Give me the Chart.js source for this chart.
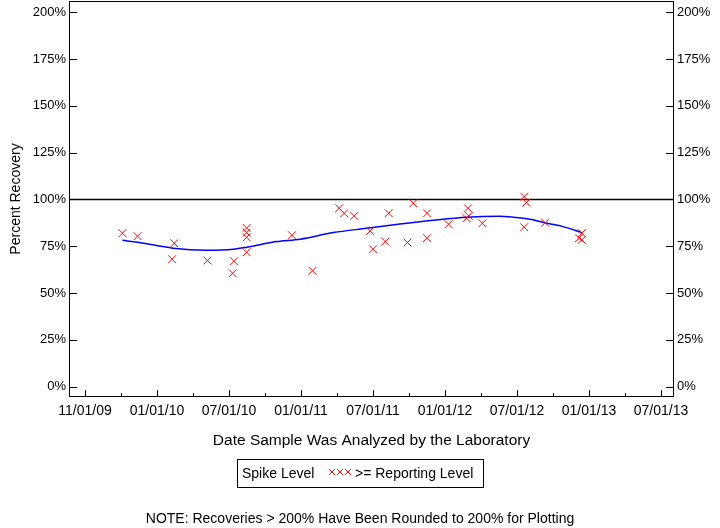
<!DOCTYPE html>
<html>
<head>
<meta charset="utf-8">
<script src="https://cdn.jsdelivr.net/npm/chart.js@4.4.1/dist/chart.umd.min.js"></script>
<style>
  body { margin: 0; background: #fff; }
  #wrap { position: relative; width: 720px; height: 528px; }
</style>
</head>
<body>
<div id="wrap"><canvas id="chart0" width="720" height="528"></canvas></div>
<script>
"use strict"

// == data
// x is in axis-tick units: 0 = first tick (11/01/09), 1 = next tick (01/01/10), ...
const xTickLabels = ["11/01/09", "01/01/10", "07/01/10", "01/01/11", "07/01/11", "01/01/12", "07/01/12", "01/01/13", "07/01/13"]
const yTickValues = [0, 25, 50, 75, 100, 125, 150, 175, 200]

const spikeX = [0.52, 0.73, 1.24, 1.21, 1.70, 2.07, 2.05, 2.245, 2.245, 2.245, 2.245, 2.875,
                3.16, 3.53, 3.60, 3.74, 3.96, 4.00, 4.17, 4.22, 4.48, 4.56, 4.75, 4.75,
                5.05, 5.32, 5.30, 5.33, 5.52, 6.10, 6.13, 6.10, 6.39, 6.90, 6.86, 6.90]
const spikeY = [82.0, 80.4, 76.6, 68.1, 67.4, 67.0, 60.6, 84.8, 82.3, 79.8, 71.8, 80.9,
                61.9, 95.3, 92.6, 91.2, 83.2, 73.4, 77.5, 92.6, 77.0, 98.0, 92.6, 79.3,
                86.8, 95.3, 90.0, 91.2, 87.3, 101.5, 98.3, 85.2, 87.6, 82.0, 79.3, 78.4]

// smoothed trend (blue)
const curveX = [0.52, 0.73, 1.22, 1.69, 2.06, 2.25, 2.66, 2.99, 3.45, 3.91, 4.375, 4.84, 5.30, 5.76, 5.95, 6.18, 6.41, 6.64, 6.90]
const curveY = [78.2, 77.2, 74.0, 72.9, 73.4, 74.5, 77.5, 78.8, 82.3, 84.6, 86.9, 88.9, 90.5, 91.0, 90.5, 89.4, 87.3, 85.5, 82.3]

const refLevel = 100
const xMin = -0.222, xMax = 8.18
const yMin = -5.5, yMax = 206

const FONT = "'Liberation Sans', Arial, sans-serif"

function pairs(xs, ys) {
    let out = []
    for (let i = 0; i < xs.length; i++) out.push({x: xs[i], y: ys[i]})
    return out
}

// no extra room for edge labels, the frame is fixed
function noPad(s) {
    s.paddingTop = 0
    s.paddingBottom = 0
    s.paddingLeft = 0
    s.paddingRight = 0
}

// frame, inward ticks, axis title, legend box and note
const decorations = {
    id: 'decorations',
    afterDraw(chart) {
        const ctx = chart.ctx
        const a = chart.chartArea
        const xs = chart.scales.x
        const yl = chart.scales.y
        ctx.save()
        ctx.strokeStyle = '#000'
        ctx.lineWidth = 1
        ctx.strokeRect(a.left + 0.5, a.top + 0.5, a.right - a.left - 1, a.bottom - a.top - 1)

        ctx.beginPath()
        // y ticks on both sides, pointing inward
        yTickValues.forEach(v => {
            let py = Math.round(yl.getPixelForValue(v)) + 0.5
            ctx.moveTo(a.left, py); ctx.lineTo(a.left + 8, py)
            ctx.moveTo(a.right, py); ctx.lineTo(a.right - 8, py)
        })
        // x ticks: major at labels, minor half-way
        for (let k = 0; k <= 16; k++) {
            let px = Math.round(xs.getPixelForValue(k / 2)) + 0.5
            let len = (k % 2 == 0) ? 7 : 4
            ctx.moveTo(px, a.bottom); ctx.lineTo(px, a.bottom - len)
        }
        ctx.stroke()

        ctx.fillStyle = '#000'
        ctx.textBaseline = 'middle'
        ctx.textAlign = 'center'
        ctx.font = '15.5px ' + FONT
        ctx.fillText('Date Sample Was Analyzed by the Laboratory', (a.left + a.right) / 2, 441)

        // legend
        ctx.strokeRect(237.5, 459.5, 246, 28)
        ctx.textAlign = 'left'
        ctx.font = '14px ' + FONT
        ctx.fillText('Spike Level', 242, 474)
        ctx.fillText('>= Reporting Level', 355, 474)
        ctx.strokeStyle = '#ff0000'
        ctx.beginPath()
        for (let i = 0; i < 3; i++) {
            let cx = 332 + i * 8, cy = 472
            ctx.moveTo(cx - 3, cy - 3); ctx.lineTo(cx + 3, cy + 3)
            ctx.moveTo(cx + 3, cy - 3); ctx.lineTo(cx - 3, cy + 3)
        }
        ctx.stroke()

        ctx.textAlign = 'center'
        ctx.fillText('NOTE: Recoveries > 200% Have Been Rounded to 200% for Plotting', 360, 519)
        ctx.restore()
    }
}

function yAxis(pos, width) {
    return {
        type: 'linear',
        position: pos,
        min: yMin,
        max: yMax,
        afterBuildTicks: s => { s.ticks = yTickValues.map(v => ({value: v})) },
        afterFit: s => { s.width = width; noPad(s) },
        grid: { display: false, drawTicks: false },
        border: { display: false },
        ticks: {
            padding: 3,
            color: '#000',
            font: { family: FONT, size: 13 },
            callback: v => v + '%'
        },
        title: pos == 'left' ? {
            display: true,
            text: 'Percent Recovery',
            color: '#000',
            font: { family: FONT, size: 14 },
            padding: { top: 8, bottom: 0 }
        } : { display: false }
    }
}

new Chart(document.getElementById('chart0').getContext('2d'), {
    type: 'scatter',
    data: {
        datasets: [
            {
                label: 'Spike Level',
                data: pairs(spikeX, spikeY),
                pointStyle: 'crossRot',
                pointRadius: 5.5,
                borderColor: '#ff0000',
                backgroundColor: '#ff0000',
                borderWidth: 1,
                order: 1
            },
            {
                type: 'line',
                data: pairs(curveX, curveY),
                borderColor: '#0000ff',
                borderWidth: 1.5,
                pointRadius: 0,
                cubicInterpolationMode: 'monotone',
                order: 2
            },
            {
                type: 'line',
                data: [{x: xMin, y: refLevel}, {x: xMax, y: refLevel}],
                borderColor: '#000',
                borderWidth: 1.5,
                pointRadius: 0,
                order: 3
            }
        ]
    },
    options: {
        responsive: false,
        devicePixelRatio: 1,
        animation: false,
        layout: { autoPadding: false, padding: { top: 1, left: 0, right: 0, bottom: 0 } },
        plugins: {
            legend: { display: false },
            tooltip: { enabled: false }
        },
        scales: {
            x: {
                type: 'linear',
                min: xMin,
                max: xMax,
                afterBuildTicks: s => { s.ticks = xTickLabels.map((l, i) => ({value: i})) },
                afterFit: s => { s.height = 131; noPad(s) },
                grid: { display: false, drawTicks: false },
                border: { display: false },
                ticks: {
                    padding: 6,
                    maxRotation: 0,
                    autoSkip: false,
                    color: '#000',
                    font: { family: FONT, size: 14 },
                    callback: (v) => xTickLabels[Math.round(v)]
                }
            },
            y: yAxis('left', 69),
            y2: yAxis('right', 46)
        }
    },
    plugins: [decorations]
})
</script>
</body>
</html>
